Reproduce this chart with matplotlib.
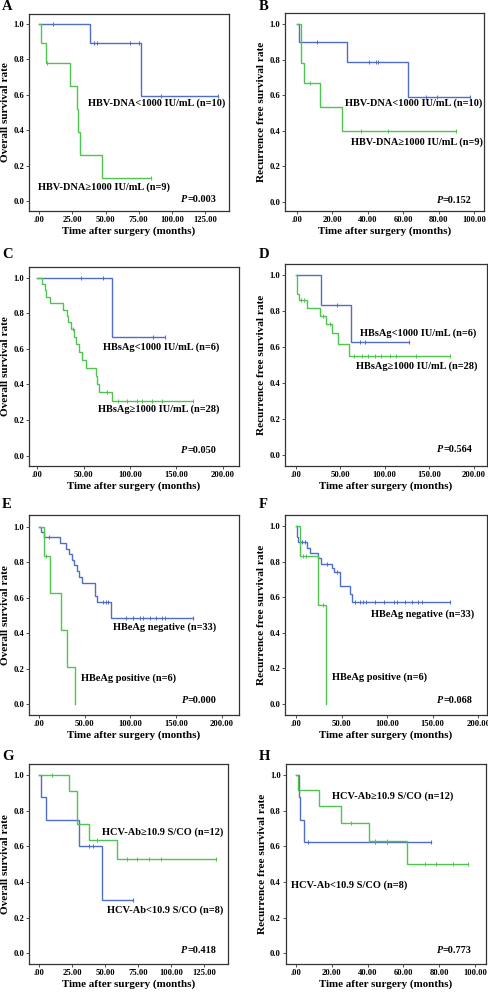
import matplotlib
matplotlib.use('Agg')
import matplotlib.pyplot as plt
import numpy as np
from matplotlib.ticker import FuncFormatter, MultipleLocator

plt.rcParams['font.family'] = ['Liberation Serif', 'DejaVu Serif']
plt.rcParams['font.weight'] = 'bold'

# ---------------- data ----------------
# Each curve: event times (months), survival level after each event, censor times
# Panel A: Overall survival, HBV-DNA
A_lo_t = [38, 77]
A_lo_s = [0.889, 0.593]
A_lo_c = [10, 41.5, 43.5, 68.5, 75.5, 92, 135]
A_hi_t = [1.3, 5, 23.2, 28.2, 29.5, 31, 47.6]
A_hi_s = [0.889, 0.778, 0.648, 0.518, 0.389, 0.259, 0.130]
A_hi_c = [5.8, 84]

# Panel B: Recurrence free survival, HBV-DNA
B_lo_t = [1.5, 28.5, 62.5]
B_lo_s = [0.900, 0.788, 0.590]
B_lo_c = [11.6, 41, 44.5, 46, 72.6, 79, 97.7]
B_hi_t = [2.3, 4.3, 13.3, 25.3]
B_hi_s = [0.778, 0.667, 0.533, 0.400]
B_hi_c = [7.5, 36.4, 51.2, 89.5]

# Panel C: Overall survival, HBsAg
C_lo_t = [80.5]
C_lo_s = [0.667]
C_lo_c = [47, 71, 124.5, 138]
C_hi_t = [4.5, 8, 9, 14, 28, 32, 33.5, 36, 40, 42, 44.5, 48, 53, 63, 64, 67, 80.5]
C_hi_s = [0.964, 0.929, 0.893, 0.857, 0.821, 0.786, 0.750, 0.714, 0.667, 0.625,
          0.583, 0.536, 0.491, 0.446, 0.402, 0.357, 0.306]
C_hi_c = [38, 75, 87, 97, 107.5, 113, 124, 134, 168]

# Panel D: Recurrence free survival, HBsAg
D_lo_t = [28, 62.5]
D_lo_s = [0.833, 0.625]
D_lo_c = [46.4, 72, 78.3, 127]
D_hi_t = [1.5, 4, 13, 27, 34, 41, 48, 60]
D_hi_s = [0.893, 0.857, 0.816, 0.772, 0.727, 0.679, 0.618, 0.549]
D_hi_c = [6, 9, 31, 39, 66, 74, 81, 89, 96, 106, 113, 135, 173]

# Panel E: Overall survival, HBeAg
E_neg_t = [2, 5.5, 23, 30, 33, 36, 38.5, 42, 44, 47, 61, 63, 79]
E_neg_s = [0.970, 0.939, 0.907, 0.876, 0.845, 0.814, 0.782, 0.750, 0.717, 0.684,
           0.609, 0.573, 0.487]
E_neg_c = [11, 70.5, 73.5, 76, 95, 103, 110.5, 114, 122, 128, 135, 138, 169]
E_pos_t = [5.8, 12, 24, 30.3, 39.4]
E_pos_s = [0.833, 0.625, 0.417, 0.208, 0.0]
E_pos_c = [8]

# Panel F: Recurrence free survival, HBeAg
F_neg_t = [1, 1.5, 2.5, 12.5, 15, 24.5, 27, 40, 41.5, 48, 48.5, 59, 61]
F_neg_s = [0.970, 0.939, 0.909, 0.879, 0.848, 0.818, 0.788, 0.764, 0.744, 0.702,
           0.660, 0.617, 0.575]
F_neg_c = [6.4, 10, 34, 45.5, 64.7, 70, 74, 77, 87, 97, 107, 111, 120, 127, 134, 138, 169]
F_pos_t = [4.4, 24.5, 33]
F_pos_s = [0.833, 0.555, 0.0]
F_pos_c = [7.3, 11, 29.3]

# Panel G: Overall survival, HCV-Ab
G_lo_t = [1, 4.8, 30.1, 47.3]
G_lo_s = [0.875, 0.750, 0.600, 0.300]
G_lo_c = [37.7, 41, 71.3]
G_hi_t = [22.5, 28.3, 29, 37.7, 59.2]
G_hi_s = [0.909, 0.818, 0.727, 0.636, 0.530]
G_hi_c = [9.4, 43.5, 66.3, 73.9, 83.2, 92, 134]

# Panel H: Recurrence free survival, HCV-Ab
H_lo_t = [1.9, 2.2, 4.3]
H_lo_s = [0.875, 0.750, 0.625]
H_lo_c = [6.9, 44, 51, 75.2]
H_hi_t = [1.3, 12.8, 25, 40.8, 61.8]
H_hi_s = [0.917, 0.825, 0.733, 0.629, 0.503]
H_hi_c = [30.5, 44, 50.6, 72, 78, 87.5, 96.3]

OS_LABEL = 'Overall survival rate'
RFS_LABEL = 'Recurrence free survival rate'
X_LABEL = 'Time after surgery (months)'

# ---------------- drawing ----------------
W, H = 489, 992
fig = plt.figure(figsize=(W / 100, H / 100), dpi=100)

BLUE = '#4f6ec6'
GREEN = '#4fc44f'
FRAME = '#333333'


def add_axes(l, r, t, b):
    return fig.add_axes([l / W, 1 - b / H, (r - l) / W, (b - t) / H])


def km(ax, t, s, c, color):
    end = max(list(t) + list(c))
    xs = [0] + list(t) + [end]
    ys = [1.0] + list(s) + [s[-1]]
    ax.step(xs, ys, where='post', color=color, lw=1.0, solid_joinstyle='miter')
    ct = np.array(c, dtype=float)
    idx = np.searchsorted(np.array(t, dtype=float), ct, side='right')
    lv = np.array([1.0] + list(s))[idx]
    ax.plot(ct, lv, ls='none', marker='|', ms=3.2, mew=0.7, color=color)


def xfmt(v, pos):
    if abs(v) < 1e-9:
        return '.00'
    return f'{v:.2f}'


panels = [
    dict(letter='A', box=(29, 229, 14, 211), xlim=(-7.8, 143.1), ylim=(-0.056, 1.054), xstep=25,
         ylabel=OS_LABEL,
         curves=[(A_lo_t, A_lo_s, A_lo_c, BLUE), (A_hi_t, A_hi_s, A_hi_c, GREEN)],
         texts=[('HBV-DNA<1000 IU/mL (n=10)', 0.297, 0.545),
                ('HBV-DNA\u22651000 IU/mL (n=9)', 0.044, 0.123)],
         p=('0.003', 0.935, 0.06), lpos=(7, 7)),
    dict(letter='B', box=(285, 484, 13, 211), xlim=(-6.6, 105.5), ylim=(-0.05, 1.061), xstep=20,
         ylabel=RFS_LABEL,
         curves=[(B_lo_t, B_lo_s, B_lo_c, BLUE), (B_hi_t, B_hi_s, B_hi_c, GREEN)],
         texts=[('HBV-DNA<1000 IU/mL (n=10)', 0.30, 0.543),
                ('HBV-DNA\u22651000 IU/mL (n=9)', 0.332, 0.348)],
         p=('0.152', 0.938, 0.055), lpos=(264, 7)),
    dict(letter='C', box=(29, 239, 267, 466), xlim=(-9, 217.6), ylim=(-0.058, 1.06), xstep=50,
         ylabel=OS_LABEL,
         curves=[(C_lo_t, C_lo_s, C_lo_c, BLUE), (C_hi_t, C_hi_s, C_hi_c, GREEN)],
         texts=[('HBsAg<1000 IU/mL (n=6)', 0.351, 0.597),
                ('HBsAg\u22651000 IU/mL (n=28)', 0.327, 0.285)],
         p=('0.050', 0.890, 0.077), lpos=(8, 255)),
    dict(letter='D', box=(285, 486.7, 264, 466), xlim=(-12, 214.6), ylim=(-0.059, 1.059), xstep=50,
         ylabel=RFS_LABEL,
         curves=[(D_lo_t, D_lo_s, D_lo_c, BLUE), (D_hi_t, D_hi_s, D_hi_c, GREEN)],
         texts=[('HBsAg<1000 IU/mL (n=6)', 0.372, 0.657),
                ('HBsAg\u22651000 IU/mL (n=28)', 0.352, 0.492)],
         p=('0.564', 0.927, 0.08), lpos=(264, 255)),
    dict(letter='E', box=(29, 239, 515, 715), xlim=(-10.9, 218.9), ylim=(-0.061, 1.065), xstep=50,
         ylabel=OS_LABEL,
         curves=[(E_neg_t, E_neg_s, E_neg_c, BLUE), (E_pos_t, E_pos_s, E_pos_c, GREEN)],
         texts=[('HBeAg negative (n=33)', 0.401, 0.438),
                ('HBeAg positive (n=6)', 0.248, 0.182)],
         p=('0.000', 0.894, 0.074), lpos=(7, 505)),
    dict(letter='F', box=(285, 486.7, 515, 715), xlim=(-12, 209.2), ylim=(-0.063, 1.062), xstep=50,
         ylabel=RFS_LABEL,
         curves=[(F_neg_t, F_neg_s, F_neg_c, BLUE), (F_pos_t, F_pos_s, F_pos_c, GREEN)],
         texts=[('HBeAg negative (n=33)', 0.426, 0.502),
                ('HBeAg positive (n=6)', 0.235, 0.187)],
         p=('0.068', 0.928, 0.071), lpos=(263, 505)),
    dict(letter='G', box=(29, 227.7, 764, 964), xlim=(-7.8, 143), ylim=(-0.06, 1.063), xstep=25,
         ylabel=OS_LABEL,
         curves=[(G_lo_t, G_lo_s, G_lo_c, BLUE), (G_hi_t, G_hi_s, G_hi_c, GREEN)],
         texts=[('HCV-Ab\u226510.9 S/CO (n=12)', 0.366, 0.66),
                ('HCV-Ab<10.9 S/CO (n=8)', 0.394, 0.27)],
         p=('0.418', 0.941, 0.066), lpos=(8, 756)),
    dict(letter='H', box=(285.7, 485.7, 764.3, 964), xlim=(-5.75, 106), ylim=(-0.06, 1.06), xstep=20,
         ylabel=RFS_LABEL,
         curves=[(H_lo_t, H_lo_s, H_lo_c, BLUE), (H_hi_t, H_hi_s, H_hi_c, GREEN)],
         texts=[('HCV-Ab\u226510.9 S/CO (n=12)', 0.233, 0.839),
                ('HCV-Ab<10.9 S/CO (n=8)', 0.026, 0.394)],
         p=('0.773', 0.93, 0.066), lpos=(264, 757)),
]

for P in panels:
    l, r, t, b = P['box']
    ax = add_axes(l, r, t, b)
    for (ct, cs, cc, col) in P['curves']:
        km(ax, ct, cs, cc, col)
    ax.set_xlim(*P['xlim'])
    ax.set_ylim(*P['ylim'])
    ax.xaxis.set_major_locator(MultipleLocator(P['xstep']))
    ax.yaxis.set_major_locator(MultipleLocator(0.2))
    ax.xaxis.set_major_formatter(FuncFormatter(xfmt))
    ax.yaxis.set_major_formatter(FuncFormatter(lambda v, p: f'{v:.1f}'))
    ax.tick_params(axis='both', labelsize=6.2, length=2, width=0.6, pad=1.5, color=FRAME)
    for lab in ax.get_xticklabels() + ax.get_yticklabels():
        lab.set_fontweight('bold')
    for sp in ax.spines.values():
        sp.set_color(FRAME)
        sp.set_linewidth(0.9)
    ax.set_xlabel(X_LABEL, fontsize=7.9, fontweight='bold', labelpad=1.5)
    ax.set_ylabel(P['ylabel'], fontsize=8.1, fontweight='bold', labelpad=2)
    for (txt, tx, ty) in P['texts']:
        ax.text(tx, ty, txt, transform=ax.transAxes, fontsize=7.5, fontweight='bold',
                ha='left', va='center')
    pv, px, py = P['p']
    t1 = ax.text(px, py, '=' + pv, transform=ax.transAxes, fontsize=7.3, fontweight='bold',
                 ha='right', va='center')
    ax.annotate('P', xy=(0, 0.5), xycoords=t1, fontsize=7.3, fontweight='bold',
                fontstyle='italic', ha='right', va='center')
    lx, ly = P['lpos']
    fig.text(lx / W, 1 - ly / H, P['letter'], fontsize=10.5, fontweight='bold',
             ha='center', va='center')

fig.savefig('out.png', dpi=100, facecolor='white')
